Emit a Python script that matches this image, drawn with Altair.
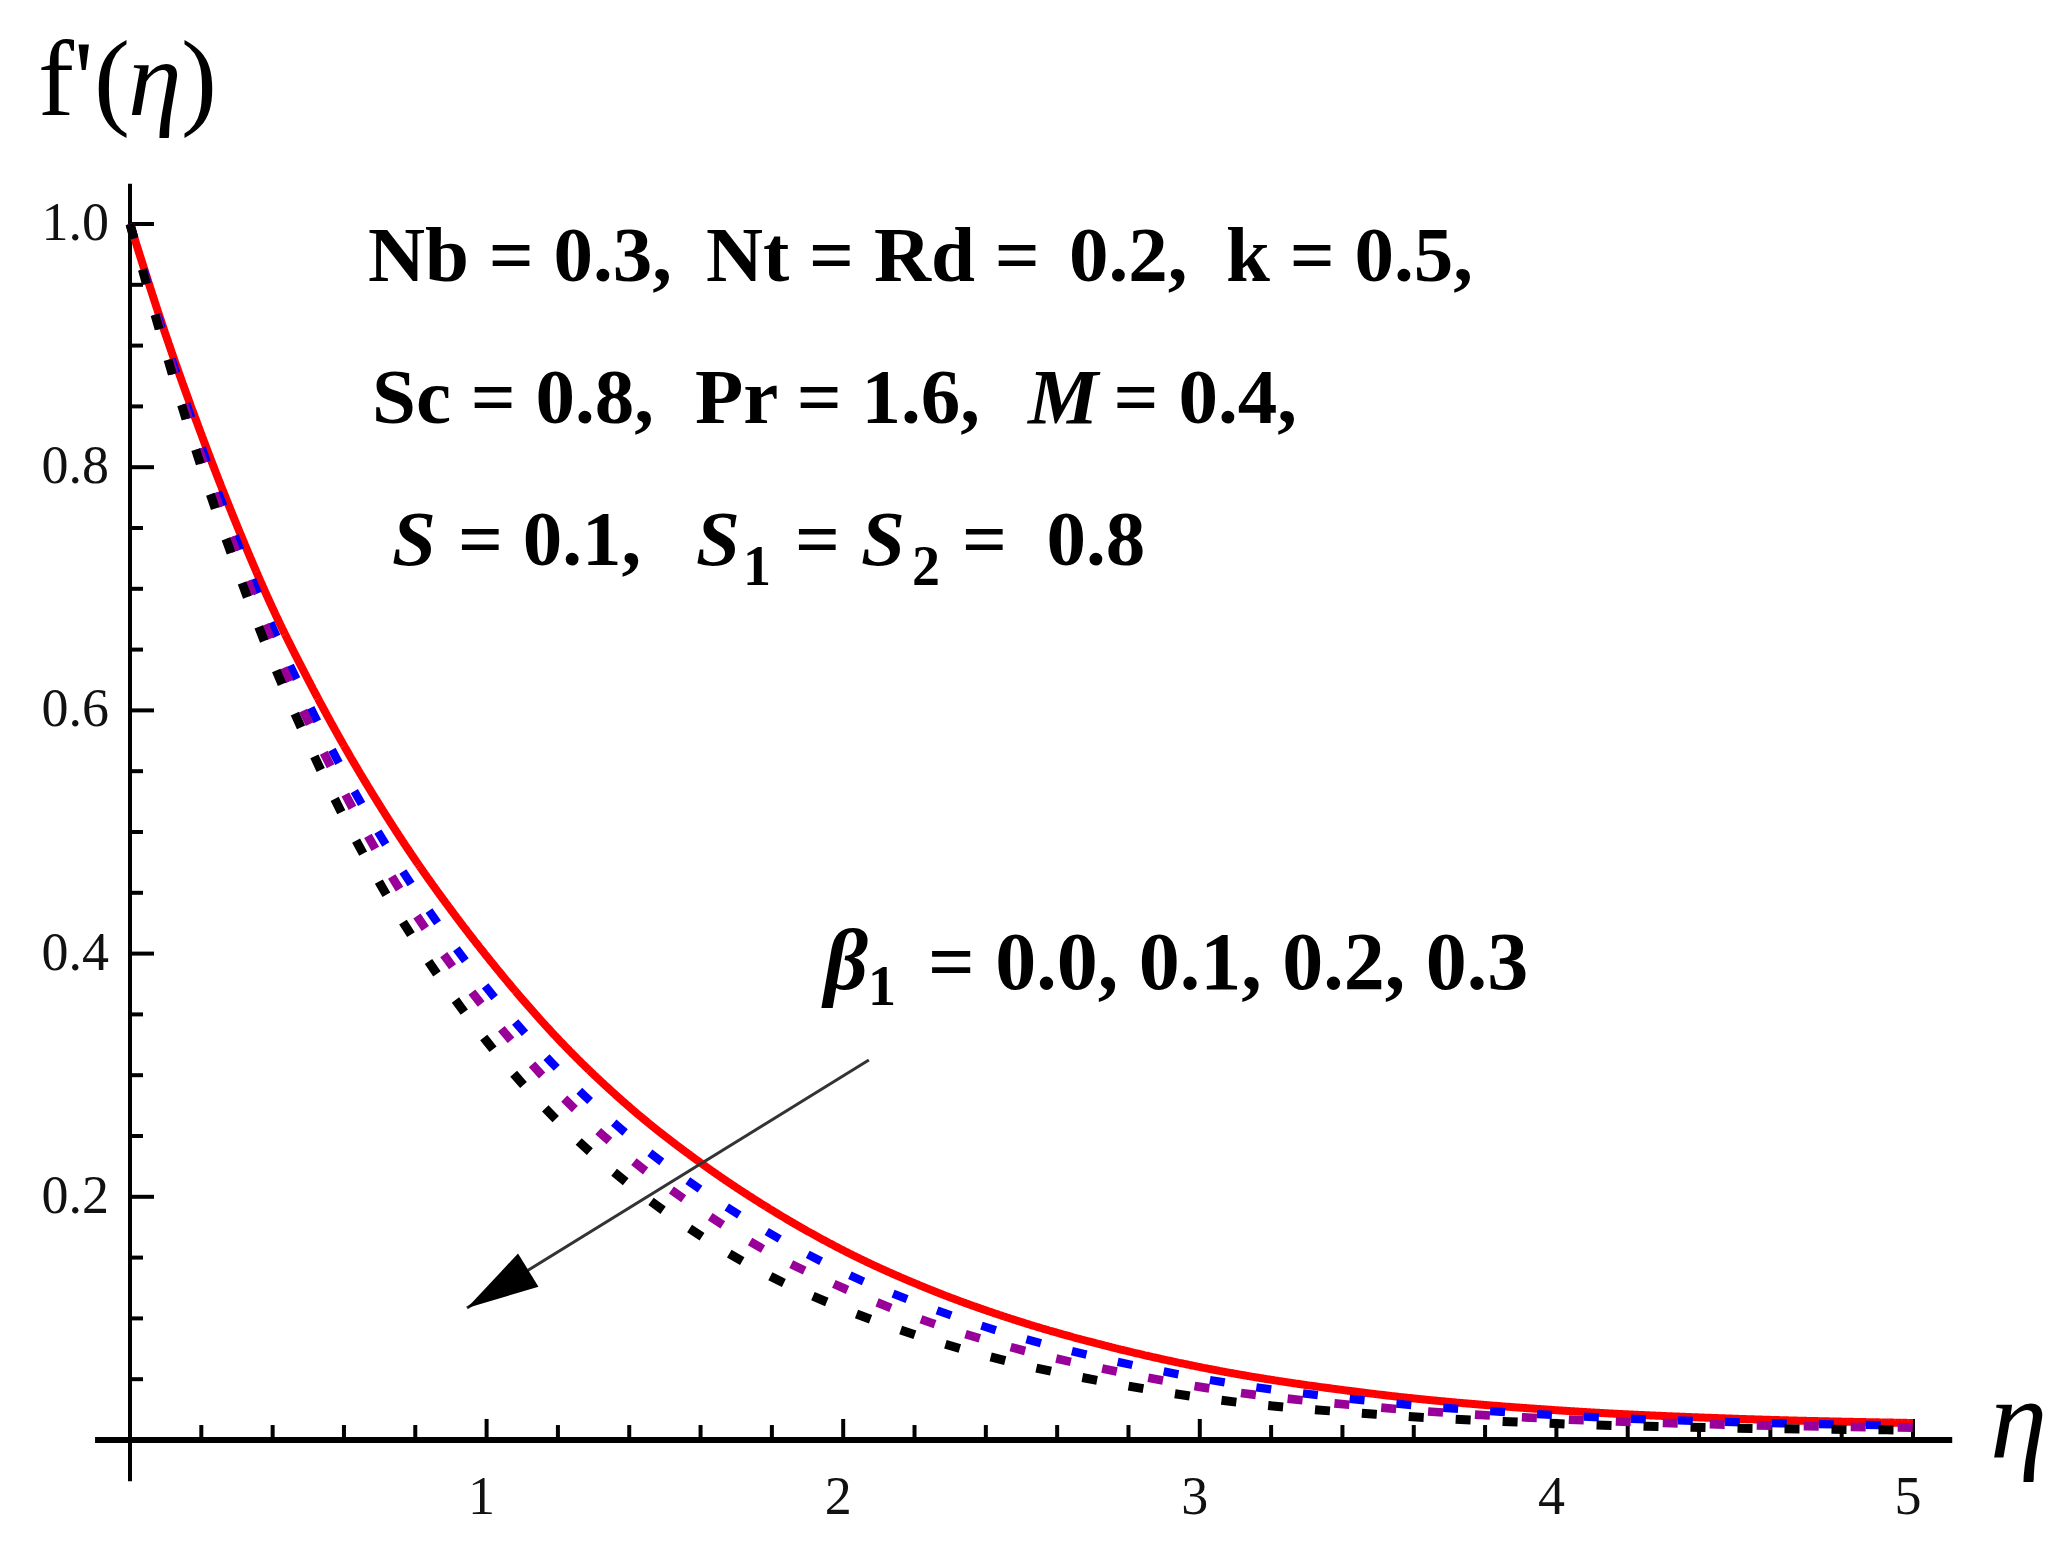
import altair as alt
import pandas as pd

# ---------------- data ----------------
ETA = [0, 0.1, 0.2, 0.3, 0.4, 0.5, 0.6, 0.7, 0.8, 0.9, 1.0, 1.2, 1.4, 1.6, 1.8,
       2.0, 2.25, 2.5, 2.75, 3.0, 3.5, 4.0, 4.5, 5.0]
BETA_LABELS = ["0.0", "0.1", "0.2", "0.3"]
F_B00 = [1.000, 0.909, 0.827, 0.752, 0.684, 0.625, 0.571, 0.522, 0.477, 0.436, 0.398,
         0.330, 0.274, 0.228, 0.189, 0.156, 0.123, 0.097, 0.0765, 0.060, 0.0375,
         0.0245, 0.0175, 0.014]
F_B01 = [1.000, 0.904, 0.817, 0.739, 0.668, 0.606, 0.549, 0.498, 0.452, 0.410, 0.372,
         0.305, 0.250, 0.206, 0.169, 0.138, 0.108, 0.084, 0.0656, 0.0508, 0.0314,
         0.0204, 0.0147, 0.0119]
F_B02 = [1.000, 0.900, 0.809, 0.729, 0.655, 0.591, 0.533, 0.480, 0.433, 0.391, 0.353,
         0.286, 0.232, 0.189, 0.153, 0.125, 0.096, 0.074, 0.0573, 0.0437, 0.0268,
         0.0173, 0.0125, 0.0102]
F_B03 = [1.000, 0.895, 0.800, 0.716, 0.640, 0.573, 0.512, 0.458, 0.410, 0.367, 0.328,
         0.262, 0.210, 0.168, 0.134, 0.108, 0.082, 0.062, 0.047, 0.035, 0.021,
         0.0135, 0.0098, 0.0082]

X_TICK_LABELS = [1, 2, 3, 4, 5]
Y_TICK_LABELS = [0.2, 0.4, 0.6, 0.8, 1.0]
X_TICKS = [i / 5 for i in range(1, 26)]        # every 0.2
Y_TICKS = [i / 20 for i in range(0, 21)]       # every 0.05

# ---------------- layout constants ----------------
X0, X1 = -0.34212, 5.37858
Y0, Y1 = -0.07648, 1.17763
W, H = 2040, 1525
FONT = "Liberation Serif"

xs = alt.Scale(domain=[X0, X1], nice=False, zero=False)
ys = alt.Scale(domain=[Y0, Y1], nice=False, zero=False)

# ---------------- curves ----------------
rows = []
for lab, vals in zip(BETA_LABELS, [F_B00, F_B01, F_B02, F_B03]):
    for e, v in zip(ETA, vals):
        rows.append({"eta": e, "f": v, "beta": lab})
curves_df = pd.DataFrame(rows)

curves = alt.Chart(curves_df).mark_line(interpolate="monotone", strokeCap="butt").encode(
    x=alt.X("eta:Q", scale=xs, axis=None),
    y=alt.Y("f:Q", scale=ys, axis=None),
    color=alt.Color("beta:N", scale=alt.Scale(domain=BETA_LABELS,
                    range=["#ff0000", "#0000ff", "#990099", "#000000"]), legend=None),
    strokeDash=alt.StrokeDash("beta:N", scale=alt.Scale(domain=BETA_LABELS,
                    range=[[1, 0], [15, 32], [15, 32], [15, 32]]), legend=None),
    strokeWidth=alt.StrokeWidth("beta:N", scale=alt.Scale(domain=BETA_LABELS,
                    range=[8, 9, 9, 9]), legend=None),
    order=alt.Order("eta:Q"),
)

# ---------------- axes ----------------
axes_df = pd.DataFrame([
    {"x": 0.0, "x2": 0.0, "y": -0.034, "y2": 1.033, "w": 4},
    {"x": -0.098, "x2": 5.11, "y": 0.0, "y2": 0.0, "w": 6},
])
axes = alt.Chart(axes_df).mark_rule(color="black").encode(
    x=alt.X("x:Q", scale=xs, axis=None), x2="x2:Q",
    y=alt.Y("y:Q", scale=ys, axis=None), y2="y2:Q",
    strokeWidth=alt.StrokeWidth("w:Q", scale=None),
)

tick_rows = []
for t in X_TICKS:
    major = abs(t - round(t)) < 1e-9
    tick_rows.append({"x": t, "x2": t, "y": 0.0, "y2": 0.0173 if major else 0.0123})
for t in Y_TICKS:
    major = abs(t * 5 - round(t * 5)) < 1e-9
    tick_rows.append({"x": 0.0, "x2": 0.0673 if major else 0.0365, "y": t, "y2": t})
ticks = alt.Chart(pd.DataFrame(tick_rows)).mark_rule(color="black", strokeWidth=4).encode(
    x=alt.X("x:Q", scale=xs, axis=None), x2="x2:Q",
    y=alt.Y("y:Q", scale=ys, axis=None), y2="y2:Q",
)

xlab_df = pd.DataFrame({"x": X_TICK_LABELS, "t": [str(v) for v in X_TICK_LABELS]})
xlabels = alt.Chart(xlab_df).mark_text(font=FONT, fontSize=54, align="center",
                                       baseline="middle", dx=-5, color="#111").encode(
    x=alt.X("x:Q", scale=xs, axis=None),
    y=alt.Y(datum=-0.0477, scale=ys, axis=None),
    text="t:N",
)
ylab_df = pd.DataFrame({"y": Y_TICK_LABELS, "t": [f"{v:.1f}" for v in Y_TICK_LABELS]})
ylabels = alt.Chart(ylab_df).mark_text(font=FONT, fontSize=54, align="right",
                                       baseline="middle", color="#111").encode(
    x=alt.X(datum=-0.0589, scale=xs, axis=None),
    y=alt.Y("y:Q", scale=ys, axis=None),
    text="t:N",
)

# axis titles
title_df = pd.DataFrame([
    {"t": "f'", "x": -0.2580, "y": 1.0896, "s": "normal", "z": 108},
    {"t": "(", "x": -0.1010, "y": 1.0896, "s": "normal", "z": 108},
    {"t": "η", "x": -0.0056, "y": 1.0896, "s": "italic", "z": 108},
    {"t": ")", "x": 0.1430, "y": 1.0896, "s": "normal", "z": 108},
    {"t": "η", "x": 5.2159, "y": -0.0148, "s": "italic", "z": 115},
])
titles_n = alt.Chart(title_df[title_df.s == "normal"]).mark_text(
    font=FONT, align="left", baseline="alphabetic", color="black").encode(
    x=alt.X("x:Q", scale=xs, axis=None), y=alt.Y("y:Q", scale=ys, axis=None),
    text="t:N", size=alt.Size("z:Q", scale=None))
titles_i = alt.Chart(title_df[title_df.s == "italic"]).mark_text(
    font=FONT, fontStyle="italic", align="left", baseline="alphabetic",
    color="black").encode(
    x=alt.X("x:Q", scale=xs, axis=None), y=alt.Y("y:Q", scale=ys, axis=None),
    text="t:N", size=alt.Size("z:Q", scale=None))

# ---------------- annotations ----------------
NB = "\u00a0"
L1, L2, L3 = 0.9531, 0.8363, 0.7196
SUB3 = 0.7031
ann_df = pd.DataFrame([
    {"t": "Nb = 0.3,", "x": 0.6675, "y": L1, "s": 79, "st": "n"},
    {"t": "Nt = Rd =", "x": 1.6153, "y": L1, "s": 79, "st": "n"},
    {"t": "0.2,", "x": 2.6332, "y": L1, "s": 79, "st": "n"},
    {"t": "k = 0.5,", "x": 3.0735, "y": L1, "s": 79, "st": "n"},
    {"t": "Sc = 0.8,", "x": 0.6786, "y": L2, "s": 79, "st": "n"},
    {"t": "Pr = 1.6,", "x": 1.5844, "y": L2, "s": 79, "st": "n"},
    {"t": "M", "x": 2.5185, "y": L2, "s": 79, "st": "i"},
    {"t": "= 0.4,", "x": 2.7583, "y": L2, "s": 79, "st": "n"},
    {"t": "S", "x": 0.7349, "y": L3, "s": 79, "st": "i"},
    {"t": "= 0.1,", "x": 0.9198, "y": L3, "s": 79, "st": "n"},
    {"t": "S", "x": 1.5872, "y": L3, "s": 79, "st": "i"},
    {"t": "1", "x": 1.7190, "y": SUB3, "s": 56, "st": "n"},
    {"t": "=", "x": 1.8648, "y": L3, "s": 79, "st": "n"},
    {"t": "S", "x": 2.0499, "y": L3, "s": 79, "st": "i"},
    {"t": "2", "x": 2.1929, "y": SUB3, "s": 56, "st": "n"},
    {"t": f"= {NB}0.8", "x": 2.3331, "y": L3, "s": 79, "st": "n"},
    {"t": "β", "x": 1.946, "y": 0.3709, "s": 86, "st": "i"},
    {"t": "1", "x": 2.0696, "y": 0.3577, "s": 56, "st": "n"},
    {"t": "= 0.0, 0.1, 0.2, 0.3", "x": 2.238, "y": 0.3709, "s": 82, "st": "n"},
])
ann_n = alt.Chart(ann_df[ann_df.st == "n"]).mark_text(
    font=FONT, fontWeight="bold", align="left", baseline="alphabetic", color="black").encode(
    x=alt.X("x:Q", scale=xs, axis=None), y=alt.Y("y:Q", scale=ys, axis=None),
    text="t:N", size=alt.Size("s:Q", scale=None))
ann_i = alt.Chart(ann_df[ann_df.st == "i"]).mark_text(
    font=FONT, fontWeight="bold", fontStyle="italic", align="left", baseline="alphabetic",
    color="black").encode(
    x=alt.X("x:Q", scale=xs, axis=None), y=alt.Y("y:Q", scale=ys, axis=None),
    text="t:N", size=alt.Size("s:Q", scale=None))

# ---------------- arrow ----------------
ARROW_FROM = (2.072, 0.3125)
ARROW_TO = (0.945, 0.1086)
arrow_df = pd.DataFrame([{"x": ARROW_FROM[0], "y": ARROW_FROM[1],
                          "x2": ARROW_TO[0], "y2": ARROW_TO[1]}])
arrow_line = alt.Chart(arrow_df).mark_rule(color="#333333", strokeWidth=3).encode(
    x=alt.X("x:Q", scale=xs, axis=None), y=alt.Y("y:Q", scale=ys, axis=None),
    x2="x2:Q", y2="y2:Q")
arrow_head = alt.Chart(arrow_df).mark_point(
    shape="M0,0L-0.27,1L0.27,1Z", filled=True, color="black", opacity=1,
    size=20736, angle=238.3, strokeWidth=0).encode(
    x=alt.X("x2:Q", scale=xs, axis=None), y=alt.Y("y2:Q", scale=ys, axis=None))

chart = alt.layer(
    axes, ticks, curves, xlabels, ylabels, titles_n, titles_i, ann_n, ann_i,
    arrow_line, arrow_head,
).properties(
    width=W, height=H, autosize=alt.AutoSizeParams(type="none"), padding=0,
    background="white",
).configure_view(strokeWidth=0)

chart.save("out.html", embed_options={"renderer": "svg", "actions": False})
